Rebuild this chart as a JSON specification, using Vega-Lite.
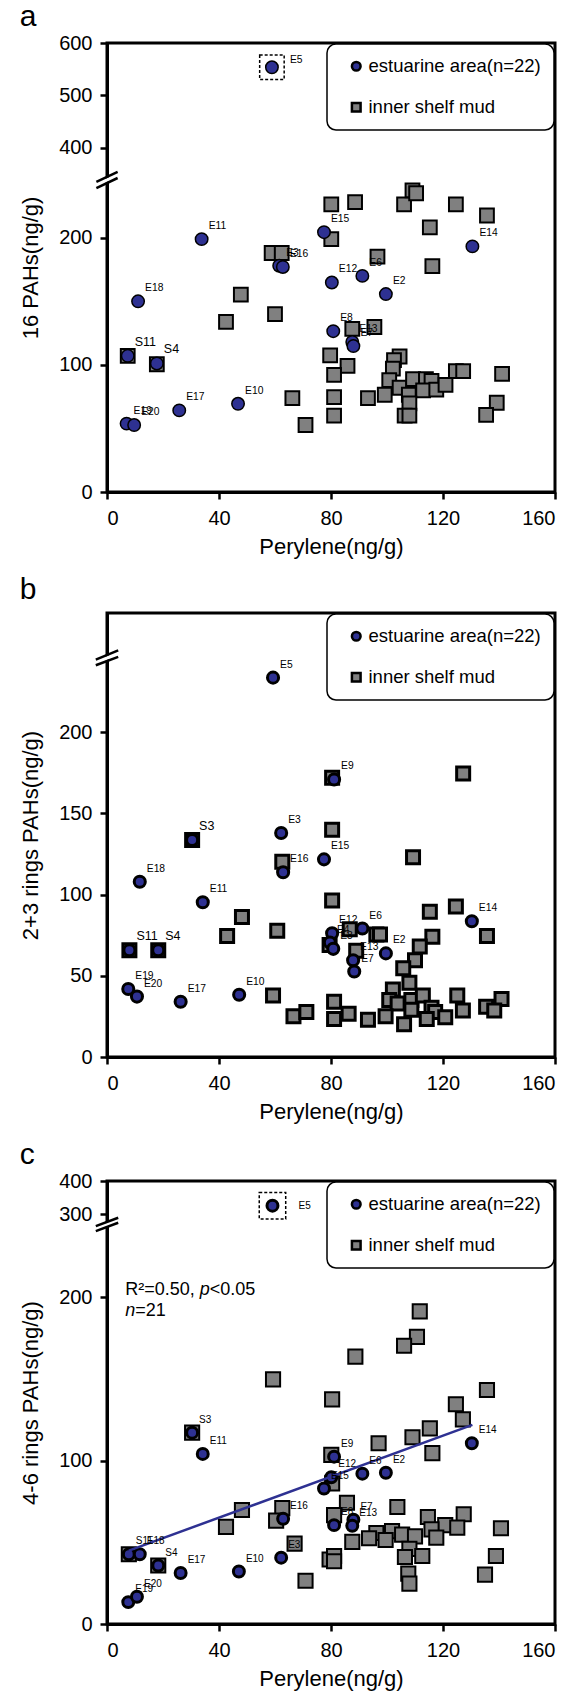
{
"$schema": "https://vega.github.io/schema/vega-lite/v6.json",
"padding": {"left": 18, "top": 0, "right": 0, "bottom": 0},
"spacing": 14,
"config": {
  "font": "Liberation Sans",
  "view": {"stroke": "black", "strokeWidth": 3},
  "axis": {"domainColor": "black", "domainWidth": 3, "tickColor": "black", "tickWidth": 2.5, "tickSize": 7, "labelFontSize": 20, "labelColor": "black", "titleFontSize": 22, "titleFontWeight": "normal", "titleColor": "black", "grid": false, "labelFont": "Liberation Sans", "titleFont": "Liberation Sans"},
  "axisY": {"labelPadding": 8, "titlePadding": 16},
  "axisX": {"labelPadding": 9, "titlePadding": 8},
  "legend": {"orient": "top-right", "offset": 1, "strokeColor": "black", "strokeWidth": 1.5, "cornerRadius": 9, "fillColor": "white", "padding": 13, "symbolOffset": 7, "labelOffset": 3, "labelFontSize": 18.5, "labelColor": "black", "labelFont": "Liberation Sans", "rowPadding": 21, "symbolSize": 75, "symbolStrokeColor": "black", "symbolStrokeWidth": 2.5, "labelLimit": 300},
  "title": {"anchor": "start", "frame": "bounds", "fontSize": 30, "fontWeight": "normal", "color": "black", "font": "Liberation Sans"}
},
"resolve": {"scale": {"x": "independent", "y": "independent", "fill": "independent", "shape": "independent", "stroke": "independent"}, "legend": {"fill": "independent", "shape": "independent", "stroke": "independent"}},
"datasets": {
  "a": [
    {"x":80.1,"y":226.2,"g":"m"},{"x":88.6,"y":228.1,"g":"m"},{"x":106.1,"y":226.2,"g":"m"},{"x":109.1,"y":237.2,"g":"m"},{"x":110.4,"y":235,"g":"m"},{"x":124.6,"y":226.2,"g":"m"},{"x":135.7,"y":217.5,"g":"m"},{"x":115.3,"y":208.2,"g":"m"},{"x":80.1,"y":198.9,"g":"m"},{"x":58.8,"y":188,"g":"m"},{"x":62.4,"y":188,"g":"m"},{"x":96.6,"y":185.2,"g":"m"},{"x":116.2,"y":177.6,"g":"m"},{"x":47.8,"y":155.2,"g":"m"},{"x":60,"y":139.9,"g":"m"},{"x":42.5,"y":133.9,"g":"m"},{"x":87.6,"y":128.4,"g":"m"},{"x":95.5,"y":129.8,"g":"m"},{"x":79.7,"y":107.4,"g":"m"},{"x":104.5,"y":106.6,"g":"m"},{"x":102.5,"y":103.8,"g":"m"},{"x":102.1,"y":97,"g":"m"},{"x":85.9,"y":99.2,"g":"m"},{"x":81.1,"y":92.1,"g":"m"},{"x":100.8,"y":88,"g":"m"},{"x":104.5,"y":82,"g":"m"},{"x":109.3,"y":88.8,"g":"m"},{"x":113.9,"y":88.8,"g":"m"},{"x":115.9,"y":87.4,"g":"m"},{"x":112.9,"y":80,"g":"m"},{"x":117.6,"y":80.6,"g":"m"},{"x":120.9,"y":84.2,"g":"m"},{"x":99.2,"y":76.5,"g":"m"},{"x":93.2,"y":73.8,"g":"m"},{"x":81.1,"y":74.6,"g":"m"},{"x":66.2,"y":73.8,"g":"m"},{"x":107.8,"y":76.5,"g":"m"},{"x":108,"y":69.7,"g":"m"},{"x":106.3,"y":60.1,"g":"m"},{"x":108,"y":60.1,"g":"m"},{"x":81.1,"y":60.1,"g":"m"},{"x":70.9,"y":52.7,"g":"m"},{"x":124.6,"y":95.1,"g":"m"},{"x":127.2,"y":95.1,"g":"m"},{"x":141.1,"y":92.9,"g":"m"},{"x":139.2,"y":70.2,"g":"m"},{"x":135.4,"y":60.7,"g":"m"},{"x":7.4,"y":107.1,"g":"m"},{"x":17.8,"y":100.5,"g":"m"},
    {"x":58.9,"y":553.6,"g":"e","lab":"E5"},{"x":33.8,"y":198.9,"g":"e","lab":"E11"},{"x":77.5,"y":204.4,"g":"e","lab":"E15"},{"x":130.5,"y":193.2,"g":"e","lab":"E14"},{"x":61.5,"y":178,"g":"e","lab":"E3"},{"x":62.8,"y":177,"g":"e","lab":"E16"},{"x":80.3,"y":164.8,"g":"e","lab":"E12"},{"x":91.2,"y":170,"g":"e","lab":"E6"},{"x":99.6,"y":155.7,"g":"e","lab":"E2"},{"x":11.1,"y":150,"g":"e","lab":"E18"},{"x":80.8,"y":126.5,"g":"e","lab":"E8"},{"x":87.6,"y":118,"g":"e","lab":"E13"},{"x":88,"y":114.8,"g":"e","lab":"E7"},{"x":7.4,"y":107.1,"g":"e","lab":"S11"},{"x":17.8,"y":101.1,"g":"e","lab":"S4"},{"x":46.8,"y":69.4,"g":"e","lab":"E10"},{"x":25.8,"y":64.2,"g":"e","lab":"E17"},{"x":7,"y":53.8,"g":"e","lab":"E19"},{"x":9.7,"y":52.7,"g":"e","lab":"E20"}
  ],
  "b": [
    {"x":80.4,"y":171.9,"g":"m"},{"x":127.2,"y":174.5,"g":"m"},{"x":80.4,"y":140,"g":"m"},{"x":109.3,"y":123,"g":"m"},{"x":62.6,"y":120.2,"g":"m"},{"x":80.4,"y":96.4,"g":"m"},{"x":48.2,"y":86.2,"g":"m"},{"x":124.6,"y":92.6,"g":"m"},{"x":115.3,"y":89.4,"g":"m"},{"x":60.8,"y":77.7,"g":"m"},{"x":42.9,"y":74.5,"g":"m"},{"x":96.2,"y":75.5,"g":"m"},{"x":97.5,"y":75.5,"g":"m"},{"x":135.7,"y":74.5,"g":"m"},{"x":116.2,"y":74,"g":"m"},{"x":86.7,"y":78.7,"g":"m"},{"x":111.7,"y":68.1,"g":"m"},{"x":110,"y":59.6,"g":"m"},{"x":89,"y":65.5,"g":"m"},{"x":105.8,"y":54.7,"g":"m"},{"x":108,"y":45.7,"g":"m"},{"x":102.1,"y":41.5,"g":"m"},{"x":59.3,"y":37.9,"g":"m"},{"x":81.1,"y":34,"g":"m"},{"x":100.8,"y":35.1,"g":"m"},{"x":103.8,"y":33,"g":"m"},{"x":108.7,"y":35.1,"g":"m"},{"x":112.8,"y":37.9,"g":"m"},{"x":125.1,"y":37.9,"g":"m"},{"x":140.9,"y":35.7,"g":"m"},{"x":135.4,"y":30.9,"g":"m"},{"x":138.3,"y":28.7,"g":"m"},{"x":115.9,"y":30.4,"g":"m"},{"x":117.2,"y":27.7,"g":"m"},{"x":108.7,"y":29.1,"g":"m"},{"x":127.1,"y":28.7,"g":"m"},{"x":66.6,"y":25.1,"g":"m"},{"x":71.2,"y":27.7,"g":"m"},{"x":86.3,"y":26.6,"g":"m"},{"x":81.1,"y":23.4,"g":"m"},{"x":93.2,"y":23,"g":"m"},{"x":99.5,"y":25.1,"g":"m"},{"x":106.1,"y":20.2,"g":"m"},{"x":114.2,"y":23.4,"g":"m"},{"x":120.8,"y":24.5,"g":"m"},{"x":30.4,"y":133.6,"g":"m"},{"x":8,"y":65.7,"g":"m"},{"x":18.3,"y":65.7,"g":"m"},{"x":79.5,"y":69,"g":"m"},
    {"x":59.3,"y":233.6,"g":"e","lab":"E5"},{"x":81.1,"y":170.9,"g":"e","lab":"E9"},{"x":62.2,"y":137.9,"g":"e","lab":"E3"},{"x":30.4,"y":133.6,"g":"e","lab":"S3"},{"x":77.5,"y":121.7,"g":"e","lab":"E15"},{"x":62.9,"y":113.8,"g":"e","lab":"E16"},{"x":11.7,"y":107.9,"g":"e","lab":"E18"},{"x":34.2,"y":95.3,"g":"e","lab":"E11"},{"x":130.3,"y":83.6,"g":"e","lab":"E14"},{"x":91.2,"y":79.1,"g":"e","lab":"E6"},{"x":80.4,"y":76.2,"g":"e","lab":"E12"},{"x":79.6,"y":70.5,"g":"e","lab":"E4"},{"x":80.8,"y":66.6,"g":"e","lab":"E8"},{"x":99.6,"y":63.8,"g":"e","lab":"E2"},{"x":87.9,"y":59.6,"g":"e","lab":"E13"},{"x":88.3,"y":52.6,"g":"e","lab":"E7"},{"x":8,"y":65.7,"g":"e","lab":"S11"},{"x":18.3,"y":65.7,"g":"e","lab":"S4"},{"x":7.6,"y":41.9,"g":"e","lab":"E19"},{"x":10.7,"y":37.2,"g":"e","lab":"E20"},{"x":26.3,"y":34,"g":"e","lab":"E17"},{"x":47.2,"y":38.3,"g":"e","lab":"E10"}
  ],
  "c": [
    {"x":111.7,"y":191.3,"g":"m"},{"x":110.7,"y":175.7,"g":"m"},{"x":106.1,"y":170.3,"g":"m"},{"x":88.7,"y":163.6,"g":"m"},{"x":59.3,"y":149.7,"g":"m"},{"x":135.7,"y":143.2,"g":"m"},{"x":80.4,"y":137.5,"g":"m"},{"x":124.6,"y":134.5,"g":"m"},{"x":127.1,"y":125.2,"g":"m"},{"x":115.3,"y":119.7,"g":"m"},{"x":109.1,"y":114.3,"g":"m"},{"x":97,"y":110.6,"g":"m"},{"x":116.2,"y":104.6,"g":"m"},{"x":80.1,"y":103.5,"g":"m"},{"x":80.4,"y":86.1,"g":"m"},{"x":85.7,"y":74.2,"g":"m"},{"x":103.7,"y":71.6,"g":"m"},{"x":48.2,"y":69.8,"g":"m"},{"x":62.6,"y":70.9,"g":"m"},{"x":60.4,"y":63.3,"g":"m"},{"x":81.1,"y":66.6,"g":"m"},{"x":114.6,"y":65.5,"g":"m"},{"x":127.4,"y":67.2,"g":"m"},{"x":120.8,"y":60.5,"g":"m"},{"x":125.1,"y":59,"g":"m"},{"x":140.7,"y":58.6,"g":"m"},{"x":115.9,"y":57.9,"g":"m"},{"x":117.6,"y":52.9,"g":"m"},{"x":42.5,"y":59.4,"g":"m"},{"x":96.2,"y":55.7,"g":"m"},{"x":101.8,"y":56.8,"g":"m"},{"x":105.4,"y":54.7,"g":"m"},{"x":110,"y":53.6,"g":"m"},{"x":93.6,"y":52.5,"g":"m"},{"x":99.5,"y":51.4,"g":"m"},{"x":87.6,"y":50.3,"g":"m"},{"x":67,"y":49.2,"g":"m"},{"x":108,"y":46,"g":"m"},{"x":106.4,"y":41,"g":"m"},{"x":112.6,"y":41.6,"g":"m"},{"x":138.9,"y":41.6,"g":"m"},{"x":79.5,"y":39.5,"g":"m"},{"x":81.1,"y":41.6,"g":"m"},{"x":81.1,"y":38.4,"g":"m"},{"x":70.9,"y":26.5,"g":"m"},{"x":107.6,"y":30.8,"g":"m"},{"x":108,"y":24.7,"g":"m"},{"x":135,"y":30.2,"g":"m"},{"x":30.4,"y":117.1,"g":"m"},{"x":7.8,"y":42.7,"g":"m"},{"x":18.3,"y":35.8,"g":"m"},
    {"x":59.1,"y":326,"g":"e","lab":"E5"},{"x":30.4,"y":117.1,"g":"e","lab":"S3"},{"x":34.2,"y":104.1,"g":"e","lab":"E11"},{"x":81.1,"y":102.4,"g":"e","lab":"E9"},{"x":130.3,"y":110.6,"g":"e","lab":"E14"},{"x":80.1,"y":89.8,"g":"e","lab":"E12"},{"x":91.2,"y":92,"g":"e","lab":"E6"},{"x":99.6,"y":92.6,"g":"e","lab":"E2"},{"x":77.5,"y":82.9,"g":"e","lab":"E15"},{"x":62.9,"y":64.4,"g":"e","lab":"E16"},{"x":88,"y":63.8,"g":"e","lab":"E7"},{"x":81.1,"y":60.5,"g":"e","lab":"E8"},{"x":87.6,"y":60.1,"g":"e","lab":"E13"},{"x":62.2,"y":40.6,"g":"e","lab":"E3"},{"x":47.1,"y":32.1,"g":"e","lab":"E10"},{"x":26.3,"y":31.2,"g":"e","lab":"E17"},{"x":18.3,"y":35.8,"g":"e","lab":"S4"},{"x":7.8,"y":42.7,"g":"e","lab":"S11"},{"x":11.7,"y":42.7,"g":"e","lab":"E18"},{"x":7.6,"y":13.4,"g":"e","lab":"E19"},{"x":10.7,"y":16.7,"g":"e","lab":"E20"}
  ],
  "brkA": [{"k":"w","x":-3.8,"y":241.5,"x2":3.8,"y2":347.7},{"k":"b","x":-3.8,"y":243.9,"x2":3.8,"y2":353.5},{"k":"b","x":-3.8,"y":239.1,"x2":3.8,"y2":247}],
  "brkB": [{"k":"w","x":-4,"y":243,"x2":4,"y2":248.4},{"k":"b","x":-4,"y":244.7,"x2":4,"y2":250.4},{"k":"b","x":-4,"y":241.2,"x2":4,"y2":246.4}],
  "brkC": [{"k":"w","x":-4,"y":241.9,"x2":4,"y2":282.3},{"k":"b","x":-4,"y":243.5,"x2":4,"y2":289.8},{"k":"b","x":-4,"y":240.4,"x2":4,"y2":274.8}],
  "reg": [{"x":7.8,"y":44.9},{"x":130.5,"y":121.9}],
  "annN": [{"x":6.5,"y":201.6,"t":"R²=0.50, "},{"x":36.7,"y":201.6,"t":"<0.05"},{"x":10.1,"y":188.8,"t":"=21"}],
  "annI": [{"x":33.1,"y":201.6,"t":"p"},{"x":6.5,"y":188.8,"t":"n"}]
},
"vconcat": [
  {
    "width": 448, "height": 449,
    "title": {"text": "a", "offset": 1},
    "layer": [
      {"data": {"name": "a"}, "transform": [{"filter": "datum.g=='m'"}],
       "mark": {"type": "point", "filled": true, "strokeWidth": 2, "opacity": 1, "size": 190},
       "encoding": {
         "x": {"field": "x", "type": "quantitative", "scale": {"domain": [0, 160], "nice": false, "zero": false}, "axis": {"values": [0, 40, 80, 120, 160], "title": "Perylene(ng/g)"}},
         "y": {"field": "y", "type": "quantitative", "scale": {"domain": [0, 247, 342, 600], "range": [449, 135, 135, 0], "nice": false, "zero": false}, "axis": {"values": [0, 100, 200, 400, 500, 600], "title": "16 PAHs(ng/g)"}},
         "fill": {"field": "g", "type": "nominal", "scale": {"domain": ["e", "m"], "range": ["#2E3192", "#808080"]}, "legend": {"title": null, "labelExpr": "datum.label=='e'?'estuarine area(n=22)':'inner shelf mud'"}},
         "stroke": {"field": "g", "type": "nominal", "scale": {"domain": ["e", "m"], "range": ["black", "black"]}, "legend": {"title": null, "labelExpr": "datum.label=='e'?'estuarine area(n=22)':'inner shelf mud'"}},
         "shape": {"field": "g", "type": "nominal", "scale": {"domain": ["e", "m"], "range": ["circle", "square"]}, "legend": {"title": null, "labelExpr": "datum.label=='e'?'estuarine area(n=22)':'inner shelf mud'"}}
       }},
      {"data": {"name": "a"}, "transform": [{"filter": "datum.g=='e'"}],
       "mark": {"type": "point", "filled": true, "strokeWidth": 1.5, "opacity": 1, "size": 155},
       "encoding": {
         "x": {"field": "x", "type": "quantitative"},
         "y": {"field": "y", "type": "quantitative"},
         "fill": {"field": "g", "type": "nominal"},
         "stroke": {"field": "g", "type": "nominal"},
         "shape": {"field": "g", "type": "nominal"}
       }},
      {"data": {"name": "a"}, "transform": [{"filter": "datum.lab=='E5'"}],
       "mark": {"type": "point", "shape": "square", "filled": false, "color": "black", "strokeWidth": 1.5, "strokeDash": [3, 2], "size": 600, "opacity": 1},
       "encoding": {"x": {"field": "x", "type": "quantitative"}, "y": {"field": "y", "type": "quantitative"}}},
      {"data": {"name": "a"}, "transform": [{"filter": "datum.lab && datum.lab!='E5'"}],
       "mark": {"type": "text", "align": "left", "baseline": "alphabetic", "dx": 7, "dy": -10, "color": "black"},
       "encoding": {"x": {"field": "x", "type": "quantitative"}, "y": {"field": "y", "type": "quantitative"}, "text": {"field": "lab"},
         "size": {"condition": {"test": "indexof(datum.lab,'S')===0", "value": 12.5}, "value": 10.3}}},
      {"data": {"name": "a"}, "transform": [{"filter": "datum.lab=='E5'"}],
       "mark": {"type": "text", "align": "left", "baseline": "alphabetic", "dx": 18, "dy": -4, "color": "black", "fontSize": 10.3},
       "encoding": {"x": {"field": "x", "type": "quantitative"}, "y": {"field": "y", "type": "quantitative"}, "text": {"field": "lab"}}},
      {"data": {"name": "brkA"}, "transform": [{"filter": "datum.k=='w'"}],
       "mark": {"type": "rule", "color": "white", "strokeWidth": 3.5},
       "encoding": {"x": {"field": "x", "type": "quantitative"}, "y": {"field": "y", "type": "quantitative"}, "x2": {"field": "x2"}, "y2": {"field": "y2"}}},
      {"data": {"name": "brkA"}, "transform": [{"filter": "datum.k=='b'"}],
       "mark": {"type": "rule", "color": "black", "strokeWidth": 2.5},
       "encoding": {"x": {"field": "x", "type": "quantitative"}, "y": {"field": "y", "type": "quantitative"}, "x2": {"field": "x2"}, "y2": {"field": "y2"}}}
    ]
  },
  {
    "width": 448, "height": 444,
    "title": {"text": "b", "offset": 8},
    "layer": [
      {"data": {"name": "b"}, "transform": [{"filter": "datum.g=='m'"}],
       "mark": {"type": "point", "filled": true, "strokeWidth": 3, "opacity": 1, "size": 169},
       "encoding": {
         "x": {"field": "x", "type": "quantitative", "scale": {"domain": [0, 160], "nice": false, "zero": false}, "axis": {"values": [0, 40, 80, 120, 160], "title": "Perylene(ng/g)"}},
         "y": {"field": "y", "type": "quantitative", "scale": {"domain": [0, 273.4], "nice": false, "zero": false}, "axis": {"values": [0, 50, 100, 150, 200], "title": "2+3 rings PAHs(ng/g)"}},
         "fill": {"field": "g", "type": "nominal", "scale": {"domain": ["e", "m"], "range": ["#2E3192", "#808080"]}, "legend": {"title": null, "labelExpr": "datum.label=='e'?'estuarine area(n=22)':'inner shelf mud'"}},
         "stroke": {"field": "g", "type": "nominal", "scale": {"domain": ["e", "m"], "range": ["black", "black"]}, "legend": {"title": null, "labelExpr": "datum.label=='e'?'estuarine area(n=22)':'inner shelf mud'"}},
         "shape": {"field": "g", "type": "nominal", "scale": {"domain": ["e", "m"], "range": ["circle", "square"]}, "legend": {"title": null, "labelExpr": "datum.label=='e'?'estuarine area(n=22)':'inner shelf mud'"}}
       }},
      {"data": {"name": "b"}, "transform": [{"filter": "datum.g=='e'"}],
       "mark": {"type": "point", "filled": true, "strokeWidth": 3, "opacity": 1, "size": 123},
       "encoding": {
         "x": {"field": "x", "type": "quantitative"},
         "y": {"field": "y", "type": "quantitative"},
         "fill": {"field": "g", "type": "nominal"},
         "stroke": {"field": "g", "type": "nominal"},
         "shape": {"field": "g", "type": "nominal"}
       }},
      {"data": {"name": "b"}, "transform": [{"filter": "datum.lab"}],
       "mark": {"type": "text", "align": "left", "baseline": "alphabetic", "dx": 7, "dy": -10, "color": "black"},
       "encoding": {"x": {"field": "x", "type": "quantitative"}, "y": {"field": "y", "type": "quantitative"}, "text": {"field": "lab"},
         "size": {"condition": {"test": "indexof(datum.lab,'S')===0", "value": 12.5}, "value": 10.3}}},
      {"data": {"name": "brkB"}, "transform": [{"filter": "datum.k=='w'"}],
       "mark": {"type": "rule", "color": "white", "strokeWidth": 3.5},
       "encoding": {"x": {"field": "x", "type": "quantitative"}, "y": {"field": "y", "type": "quantitative"}, "x2": {"field": "x2"}, "y2": {"field": "y2"}}},
      {"data": {"name": "brkB"}, "transform": [{"filter": "datum.k=='b'"}],
       "mark": {"type": "rule", "color": "black", "strokeWidth": 2.5},
       "encoding": {"x": {"field": "x", "type": "quantitative"}, "y": {"field": "y", "type": "quantitative"}, "x2": {"field": "x2"}, "y2": {"field": "y2"}}}
    ]
  },
  {
    "width": 448, "height": 443,
    "title": {"text": "c", "offset": 1},
    "layer": [
      {"data": {"name": "c"}, "transform": [{"filter": "datum.g=='m'"}],
       "mark": {"type": "point", "filled": true, "strokeWidth": 2, "opacity": 1, "size": 200},
       "encoding": {
         "x": {"field": "x", "type": "quantitative", "scale": {"domain": [0, 160], "nice": false, "zero": false}, "axis": {"values": [0, 40, 80, 120, 160], "title": "Perylene(ng/g)"}},
         "y": {"field": "y", "type": "quantitative", "scale": {"domain": [0, 244.5, 269.5, 400], "range": [443, 43.5, 43.5, 0], "nice": false, "zero": false}, "axis": {"values": [0, 100, 200, 300, 400], "title": "4-6 rings PAHs(ng/g)"}},
         "fill": {"field": "g", "type": "nominal", "scale": {"domain": ["e", "m"], "range": ["#2E3192", "#808080"]}, "legend": {"title": null, "labelExpr": "datum.label=='e'?'estuarine area(n=22)':'inner shelf mud'"}},
         "stroke": {"field": "g", "type": "nominal", "scale": {"domain": ["e", "m"], "range": ["black", "black"]}, "legend": {"title": null, "labelExpr": "datum.label=='e'?'estuarine area(n=22)':'inner shelf mud'"}},
         "shape": {"field": "g", "type": "nominal", "scale": {"domain": ["e", "m"], "range": ["circle", "square"]}, "legend": {"title": null, "labelExpr": "datum.label=='e'?'estuarine area(n=22)':'inner shelf mud'"}}
       }},
      {"data": {"name": "c"}, "transform": [{"filter": "datum.g=='e'"}],
       "mark": {"type": "point", "filled": true, "strokeWidth": 3, "opacity": 1, "size": 120},
       "encoding": {
         "x": {"field": "x", "type": "quantitative"},
         "y": {"field": "y", "type": "quantitative"},
         "fill": {"field": "g", "type": "nominal"},
         "stroke": {"field": "g", "type": "nominal"},
         "shape": {"field": "g", "type": "nominal"}
       }},
      {"data": {"name": "reg"},
       "mark": {"type": "line", "color": "#2E3192", "strokeWidth": 2.5},
       "encoding": {"x": {"field": "x", "type": "quantitative"}, "y": {"field": "y", "type": "quantitative"}}},
      {"data": {"name": "c"}, "transform": [{"filter": "datum.lab=='E5'"}],
       "mark": {"type": "point", "shape": "square", "filled": false, "color": "black", "strokeWidth": 1.5, "strokeDash": [3, 2], "size": 700, "opacity": 1},
       "encoding": {"x": {"field": "x", "type": "quantitative"}, "y": {"field": "y", "type": "quantitative"}}},
      {"data": {"name": "c"}, "transform": [{"filter": "datum.lab && datum.lab!='E5'"}],
       "mark": {"type": "text", "align": "left", "baseline": "alphabetic", "dx": 7, "dy": -10, "color": "black", "fontSize": 10},
       "encoding": {"x": {"field": "x", "type": "quantitative"}, "y": {"field": "y", "type": "quantitative"}, "text": {"field": "lab"}}},
      {"data": {"name": "c"}, "transform": [{"filter": "datum.lab=='E5'"}],
       "mark": {"type": "text", "align": "left", "baseline": "alphabetic", "dx": 26, "dy": 3, "color": "black", "fontSize": 10},
       "encoding": {"x": {"field": "x", "type": "quantitative"}, "y": {"field": "y", "type": "quantitative"}, "text": {"field": "lab"}}},
      {"data": {"name": "annN"},
       "mark": {"type": "text", "align": "left", "baseline": "alphabetic", "color": "black", "fontSize": 18},
       "encoding": {"x": {"field": "x", "type": "quantitative"}, "y": {"field": "y", "type": "quantitative"}, "text": {"field": "t"}}},
      {"data": {"name": "annI"},
       "mark": {"type": "text", "align": "left", "baseline": "alphabetic", "color": "black", "fontSize": 18, "fontStyle": "italic"},
       "encoding": {"x": {"field": "x", "type": "quantitative"}, "y": {"field": "y", "type": "quantitative"}, "text": {"field": "t"}}},
      {"data": {"name": "brkC"}, "transform": [{"filter": "datum.k=='w'"}],
       "mark": {"type": "rule", "color": "white", "strokeWidth": 3.5},
       "encoding": {"x": {"field": "x", "type": "quantitative"}, "y": {"field": "y", "type": "quantitative"}, "x2": {"field": "x2"}, "y2": {"field": "y2"}}},
      {"data": {"name": "brkC"}, "transform": [{"filter": "datum.k=='b'"}],
       "mark": {"type": "rule", "color": "black", "strokeWidth": 2.5},
       "encoding": {"x": {"field": "x", "type": "quantitative"}, "y": {"field": "y", "type": "quantitative"}, "x2": {"field": "x2"}, "y2": {"field": "y2"}}}
    ]
  }
]
}
